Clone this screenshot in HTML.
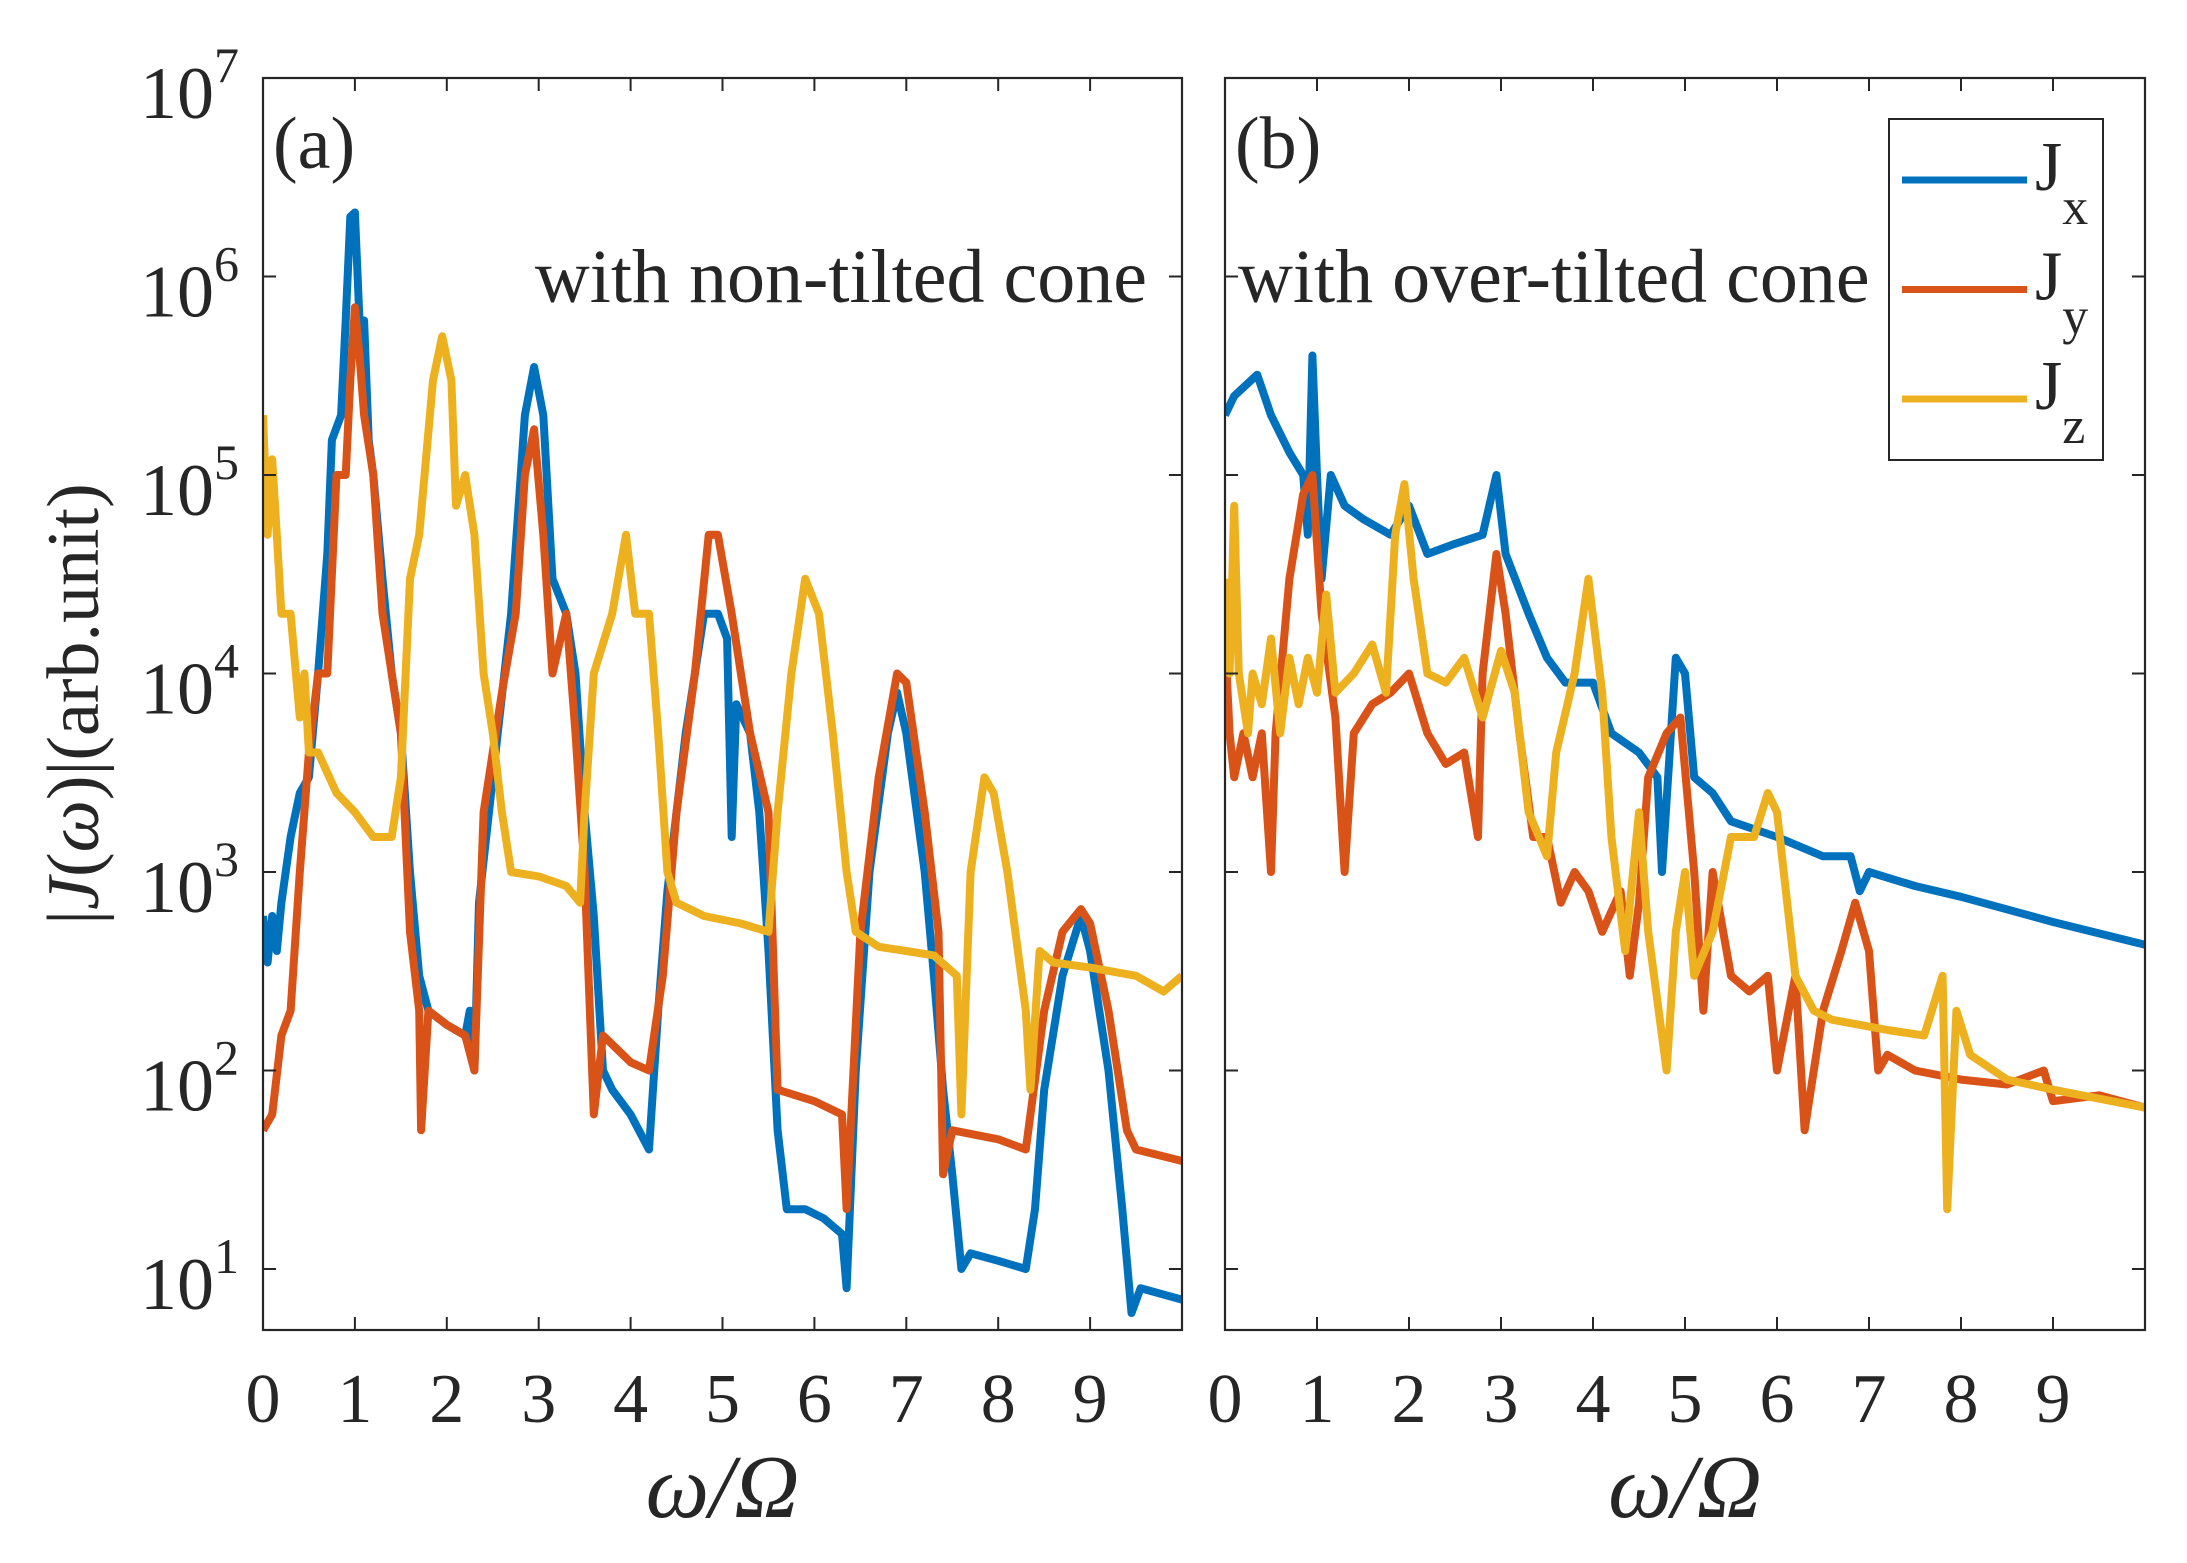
<!DOCTYPE html>
<html><head><meta charset="utf-8">
<style>
html,body{margin:0;padding:0;background:#fff;}
svg{display:block;}
text{font-family:"Liberation Serif","Times New Roman",serif;fill:#262626;}
</style></head>
<body>
<svg id="chart" width="2187" height="1563" viewBox="0 0 2187 1563" xmlns="http://www.w3.org/2000/svg">
<g id="layer"></g>
</svg>
<script>
// x-axis tick labels and y-axis decades
const xTicks = [0,1,2,3,4,5,6,7,8,9];
const yDecades = [1,2,3,4,5,6,7];
const seriesNames = ["Jx","Jy","Jz"];
const seriesColors = ["#0072BD","#D95319","#EDB120"];

// Panel (a): omega/Omega positions and |J| values
const aJxX = [0,0.05,0.1,0.15,0.2,0.3,0.4,0.5,0.6,0.7,0.75,0.85,0.9,0.95,1.0,1.05,1.1,1.15,1.2,1.3,1.4,1.5,1.6,1.7,1.8,2.0,2.2,2.25,2.3,2.35,2.5,2.7,2.85,2.95,3.05,3.15,3.3,3.4,3.5,3.6,3.7,3.8,4.0,4.2,4.3,4.4,4.6,4.8,4.95,5.05,5.1,5.15,5.3,5.4,5.5,5.6,5.7,5.9,6.1,6.3,6.35,6.45,6.6,6.8,6.9,7.0,7.2,7.3,7.4,7.5,7.6,7.7,8.0,8.3,8.4,8.5,8.7,8.9,9.0,9.2,9.35,9.45,9.55,10];
const aJxY = [600,350,600,400,700,1500,2500,3000,1e4,4e4,1.5e5,2e5,6e5,2e6,2.1e6,6e5,6e5,1.5e5,1e5,3e4,1e4,5e3,1e3,300,200,170,150,200,100,700,3000,2e4,2e5,3.5e5,2e5,3e4,2e4,1e4,2e3,600,100,80,60,40,200,800,5e3,2e4,2e4,1.5e4,1.5e3,7000,5000,2000,400,50,20,20,18,15,8,100,1000,5e3,8e3,5e3,1000,300,80,30,10,12,11,10,20,80,300,600,400,100,20,6,8,7];
const aJyX = [0,0.1,0.2,0.3,0.4,0.5,0.6,0.7,0.8,0.9,0.95,1.0,1.05,1.1,1.2,1.3,1.4,1.5,1.6,1.7,1.72,1.8,2.0,2.2,2.3,2.4,2.6,2.75,2.85,2.95,3.05,3.15,3.3,3.4,3.5,3.6,3.7,4.0,4.2,4.35,4.5,4.7,4.85,4.95,5.1,5.3,5.5,5.6,6.0,6.3,6.35,6.5,6.7,6.9,7.0,7.2,7.35,7.4,7.5,8.0,8.3,8.5,8.7,8.9,9.0,9.2,9.4,9.5,10];
const aJyY = [50,60,150,200,1000,4000,1e4,1e4,1e5,1e5,3e5,7e5,4e5,2e5,1e5,2e4,1e4,5e3,500,200,50,200,170,150,100,2e3,8e3,2e4,1e5,1.7e5,5e4,1e4,2e4,5e3,1e3,60,150,110,100,300,2000,1e4,5e4,5e4,2e4,5e3,2e3,80,70,60,20,500,3e3,1e4,9e3,2000,500,30,50,45,40,200,500,650,550,200,50,40,35];
const aJzX = [0,0.05,0.1,0.15,0.2,0.3,0.4,0.45,0.5,0.6,0.8,1.0,1.2,1.4,1.5,1.6,1.7,1.85,1.95,2.05,2.1,2.2,2.3,2.4,2.5,2.6,2.7,3.0,3.3,3.45,3.5,3.6,3.8,3.95,4.05,4.2,4.3,4.4,4.5,4.8,5.2,5.5,5.6,5.75,5.9,6.05,6.2,6.35,6.45,6.7,7.0,7.3,7.55,7.6,7.7,7.85,7.95,8.1,8.3,8.35,8.45,8.6,9.0,9.5,9.8,10];
const aJzY = [2e5,5e4,1.2e5,5e4,2e4,2e4,6e3,1e4,4e3,4000,2500,2000,1500,1500,3000,3e4,5e4,3e5,5e5,3e5,7e4,1e5,5e4,1e4,5e3,2000,1000,950,850,700,2e3,1e4,2e4,5e4,2e4,2e4,5e3,1e3,700,600,550,500,2e3,1e4,3e4,2e4,5e3,1e3,500,420,400,380,300,60,1000,3e3,2500,1000,200,80,400,350,330,300,250,300];

// Panel (b)
const bJxX = [0,0.1,0.35,0.5,0.7,0.85,0.9,0.95,1.0,1.05,1.15,1.3,1.5,1.8,2.0,2.2,2.5,2.8,2.95,3.05,3.3,3.5,3.7,4.0,4.2,4.5,4.7,4.75,4.9,5.0,5.1,5.3,5.5,6.0,6.5,6.8,6.9,7.0,7.5,8.0,9.0,10];
const bJxY = [2e5,2.5e5,3.2e5,2e5,1.3e5,1e5,5e4,4e5,1e5,3e4,1e5,7e4,6e4,5e4,7e4,4e4,4.5e4,5e4,1e5,4e4,2e4,1.2e4,9e3,9e3,5e3,4e3,3e3,1e3,1.2e4,1e4,3e3,2.5e3,1.8e3,1.5e3,1.2e3,1.2e3,800,1000,850,750,560,430];
const bJyX = [0,0.05,0.1,0.2,0.3,0.4,0.5,0.55,0.7,0.85,0.95,1.05,1.2,1.3,1.4,1.6,1.8,2.0,2.2,2.4,2.6,2.75,2.8,2.95,3.05,3.2,3.35,3.5,3.65,3.8,3.95,4.1,4.3,4.4,4.5,4.6,4.8,4.95,5.1,5.2,5.3,5.5,5.7,5.9,6.0,6.2,6.3,6.5,6.7,6.85,7.0,7.1,7.2,7.5,8.0,8.5,8.9,9.0,9.5,10];
const bJyY = [1.5e4,5e3,3e3,5e3,3e3,5e3,1e3,5e3,3e4,8e4,1e5,2e4,6e3,1e3,5e3,7e3,8e3,1e4,5e3,3.5e3,4e3,1.5e3,1e4,4e4,2e4,5e3,1.5e3,1.5e3,700,1000,800,500,800,300,700,3e3,5e3,6e3,1000,200,1000,300,250,300,100,300,50,200,400,700,400,100,120,100,90,85,100,70,75,65];
const bJzX = [0,0.05,0.1,0.15,0.25,0.3,0.4,0.5,0.6,0.7,0.8,0.9,1.0,1.1,1.2,1.4,1.6,1.75,1.85,1.95,2.05,2.2,2.4,2.6,2.8,3.0,3.15,3.3,3.5,3.6,3.8,3.95,4.1,4.2,4.35,4.5,4.6,4.8,4.9,5.0,5.1,5.3,5.5,5.75,5.9,6.0,6.2,6.4,6.6,6.9,7.2,7.6,7.8,7.85,7.95,8.1,8.5,9.0,10];
const bJzY = [3e4,1e4,7e4,1e4,5e3,1e4,7e3,1.5e4,5e3,1.2e4,7e3,1.2e4,8e3,2.5e4,8e3,1e4,1.4e4,8e3,5e4,9e4,3e4,1e4,9e3,1.2e4,6e3,1.3e4,8e3,2e3,1.2e3,4e3,1e4,3e4,8e3,1.5e3,400,2e3,500,100,500,1e3,300,500,1.5e3,1.5e3,2.5e3,2e3,300,200,180,170,160,150,300,20,200,120,90,80,65];

const NS = "http://www.w3.org/2000/svg";
const layer = document.getElementById('layer');
const TOP = 78, DEC = 198.5, BOT = 1330;
function yScale(v){ return 1269 - (Math.log10(v) - 1) * DEC; }
function mk(tag, attrs){ const e = document.createElementNS(NS, tag); for (const k in attrs) e.setAttribute(k, attrs[k]); return e; }
const FF = '"Liberation Serif","Times New Roman",serif';

const panels = [
  {id:'a', x0:263, x1:1182, series:[[aJxX,aJxY],[aJyX,aJyY],[aJzX,aJzY]], label:'(a)', note:'with non-tilted cone'},
  {id:'b', x0:1225, x1:2145, series:[[bJxX,bJxY],[bJyX,bJyY],[bJzX,bJzY]], label:'(b)', note:'with over-tilted cone'}
];

panels.forEach(p => {
  const xs = v => p.x0 + v / 10 * (p.x1 - p.x0);
  const g = mk('g', {});
  
  
  layer.appendChild(g);
  const defs = mk('defs', {});
  const cp = mk('clipPath', {id:'clip-' + p.id});
  cp.appendChild(mk('rect', {x:p.x0, y:TOP, width:p.x1 - p.x0, height:BOT - TOP}));
  defs.appendChild(cp); g.appendChild(defs);

  p.series.forEach((s, i) => {
    let d = '';
    s[0].forEach((x, j) => { d += (j ? 'L' : 'M') + xs(x).toFixed(1) + ',' + yScale(s[1][j]).toFixed(1); });
    const path = mk('path', {d:d, fill:'none', stroke:seriesColors[i], 'stroke-width':8, 'stroke-linejoin':'round', 'clip-path':'url(#clip-' + p.id + ')'});
    
    
    g.appendChild(path);
  });

  const box = mk('rect', {x:p.x0, y:TOP, width:p.x1 - p.x0, height:BOT - TOP, fill:'none', stroke:'#262626', 'stroke-width':2.2});
  
  
  g.appendChild(box);

  xTicks.forEach(t => {
    const x = xs(t);
    g.appendChild(mk('line', {x1:x, x2:x, y1:BOT, y2:BOT - 13, stroke:'#262626', 'stroke-width':2}));
    g.appendChild(mk('line', {x1:x, x2:x, y1:TOP, y2:TOP + 13, stroke:'#262626', 'stroke-width':2}));
    const tx = mk('text', {x:x, y:1422, 'font-size':70, 'text-anchor':'middle', 'font-family':FF});
    tx.textContent = t;
    
    
    g.appendChild(tx);
  });
  yDecades.forEach(dd => {
    const y = 1269 - (dd - 1) * DEC;
    g.appendChild(mk('line', {x1:p.x0, x2:p.x0 + 13, y1:y, y2:y, stroke:'#262626', 'stroke-width':2}));
    g.appendChild(mk('line', {x1:p.x1, x2:p.x1 - 13, y1:y, y2:y, stroke:'#262626', 'stroke-width':2}));
    if (p.id === 'a') {
      const tl = mk('text', {x:140, y:y + 40, 'font-size':74, 'font-family':FF});
      tl.textContent = '10';
      const sup = mk('tspan', {dy:-36, 'font-size':50});
      sup.textContent = dd;
      tl.appendChild(sup);
      
      
      g.appendChild(tl);
    }
  });

  const pl = mk('text', {x:p.x0 + 10, y:168, 'font-size':74, 'font-family':FF});
  pl.textContent = p.label;
  
  
  g.appendChild(pl);

  const nt = mk('text', p.id === 'a' ? {x:1147, y:302, 'font-size':76, 'text-anchor':'end', 'font-family':FF} : {x:1238, y:302, 'font-size':76, 'font-family':FF});
  nt.textContent = p.note;
  
  
  g.appendChild(nt);

  const xl = mk('text', {x:(p.x0 + p.x1) / 2, y:1517, 'font-size':90, 'text-anchor':'middle', 'font-style':'italic', 'font-family':FF});
  xl.textContent = 'ω/Ω';
  
  
  g.appendChild(xl);
});

const yl = mk('text', {x:0, y:0, 'font-size':74, 'text-anchor':'middle', 'font-family':FF, transform:'translate(98,704) rotate(-90)'});
yl.textContent = '|';
const yj = mk('tspan', {'font-style':'italic'}); yj.textContent = 'J'; yl.appendChild(yj);
const yr = mk('tspan', {}); yr.textContent = '('; yl.appendChild(yr);
const yw = mk('tspan', {'font-style':'italic'}); yw.textContent = 'ω'; yl.appendChild(yw);
const yt = mk('tspan', {}); yt.textContent = ')|(arb.unit)'; yl.appendChild(yt);


layer.appendChild(yl);

const lg = mk('g', {});


layer.appendChild(lg);
lg.appendChild(mk('rect', {x:1889, y:119, width:214, height:341, fill:'#fff', stroke:'#262626', 'stroke-width':2}));
const subs = ['x','y','z'];
seriesNames.forEach((n, i) => {
  const y = 180 + i * 109.5;
  const e = mk('g', {});
  
  
  e.appendChild(mk('line', {x1:1902, x2:2027, y1:y, y2:y, stroke:seriesColors[i], 'stroke-width':7}));
  const t = mk('text', {x:2035, y:y + 10, 'font-size':70, 'font-family':FF});
  t.textContent = 'J';
  const s = mk('tspan', {dy:34, 'font-size':52});
  s.textContent = subs[i];
  t.appendChild(s);
  e.appendChild(t);
  lg.appendChild(e);
});
</script>
</body></html>
